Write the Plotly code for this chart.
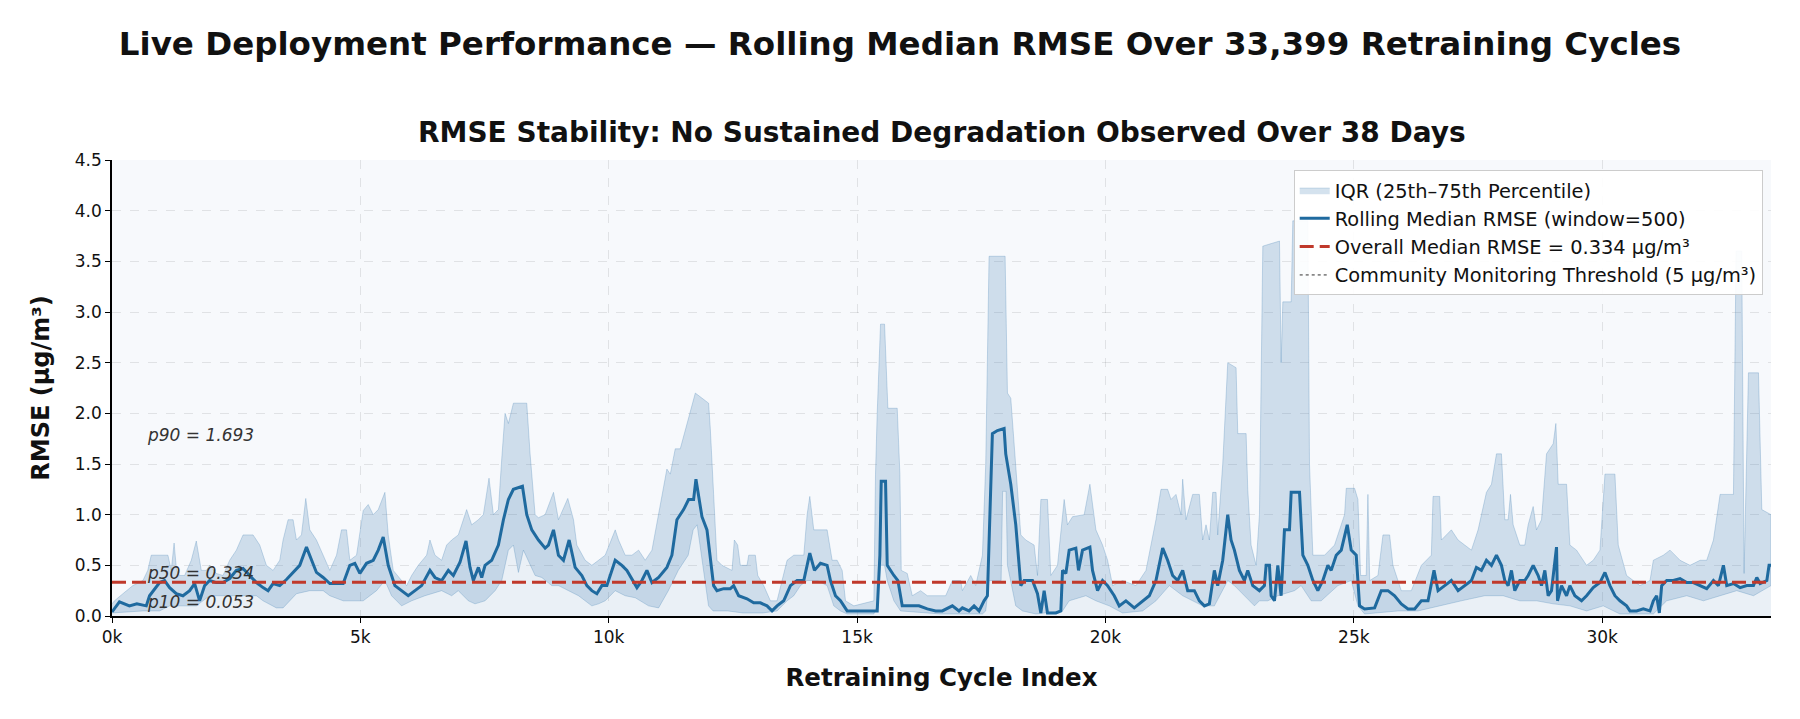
import plotly.graph_objects as go

N_CYCLES = 33399
OVERALL_MEDIAN = 0.334
THRESHOLD = 5.0
P90, P50, P10 = 1.693, 0.334, 0.053

median_x = [0, 50, 150, 350, 500, 690, 756, 958, 1059, 1160, 1294, 1428, 1563, 1664, 1764, 1865, 1966, 2100, 2235, 2369,
            2504, 2638, 2772, 2907, 3041, 3142, 3243, 3377, 3512, 3646, 3780, 3915, 4016, 4116, 4251, 4385, 4520, 4654,
            4788, 4889, 4990, 5124, 5259, 5360, 5460, 5561, 5696, 5830, 5964, 6099, 6233, 6401, 6502, 6636, 6771, 6872,
            7006, 7127, 7208, 7275, 7376, 7443, 7510, 7644, 7779, 7880, 7980, 8081, 8182, 8263, 8350, 8451, 8585, 8720,
            8787, 8888, 8988, 9089, 9203, 9324, 9459, 9560, 9660, 9761, 9862, 9963, 10131, 10265, 10366, 10467, 10568,
            10668, 10769, 10870, 11004, 11171, 11272, 11373, 11440, 11507, 11608, 11709, 11756, 11810, 11877, 11978,
            12045, 12112, 12179, 12314, 12448, 12515, 12616, 12784, 12919, 13053, 13187, 13288, 13389, 13523, 13658,
            13792, 13927, 14048, 14142, 14263, 14397, 14464, 14565, 14666, 14800, 14935, 15203, 15405, 15459, 15486,
            15573, 15607, 15741, 15822, 15909, 16077, 16245, 16413, 16582, 16716, 16918, 17052, 17120, 17254, 17355,
            17456, 17556, 17624, 17671, 17724, 17825, 17960, 17993, 18094, 18195, 18296, 18363, 18531, 18632, 18699,
            18766, 18833, 19001, 19102, 19136, 19203, 19270, 19404, 19458, 19539, 19687, 19740, 19841, 19942, 20043,
            20177, 20278, 20412, 20580, 20748, 20883, 21017, 21152, 21252, 21353, 21454, 21555, 21656, 21790, 21891,
            21992, 22092, 22193, 22260, 22361, 22462, 22529, 22596, 22697, 22798, 22865, 22966, 23100, 23201, 23235,
            23302, 23336, 23403, 23470, 23537, 23604, 23705, 23739, 23907, 23974, 24075, 24176, 24276, 24377, 24478,
            24545, 24646, 24747, 24868, 24948, 25049, 25116, 25217, 25419, 25553, 25688, 25822, 25956, 26091, 26225,
            26360, 26494, 26615, 26696, 26830, 26964, 27099, 27233, 27368, 27468, 27569, 27670, 27771, 27872, 27972,
            28040, 28107, 28174, 28241, 28342, 28443, 28510, 28611, 28712, 28779, 28846, 28913, 28980, 29081, 29101,
            29182, 29283, 29350, 29451, 29585, 29686, 29820, 29955, 30056, 30156, 30257, 30358, 30492, 30560, 30694,
            30828, 30963, 31030, 31097, 31151, 31198, 31299, 31433, 31568, 31702, 31836, 31971, 32105, 32240, 32340,
            32441, 32508, 32643, 32777, 32912, 33046, 33113, 33180, 33315, 33360, 33399]
median_y = [0.04, 0.07, 0.14, 0.1, 0.12, 0.1, 0.2, 0.33, 0.35, 0.28, 0.22, 0.2, 0.25, 0.32, 0.15, 0.3, 0.35, 0.33, 0.33, 0.37,
            0.45, 0.47, 0.4, 0.33, 0.28, 0.25, 0.32, 0.3, 0.36, 0.43, 0.5, 0.68, 0.55, 0.43, 0.38, 0.32, 0.32, 0.32,
            0.5, 0.52, 0.42, 0.52, 0.55, 0.65, 0.78, 0.5, 0.3, 0.25, 0.2, 0.25, 0.3, 0.45, 0.38, 0.35, 0.45, 0.4,
            0.53, 0.74, 0.48, 0.35, 0.48, 0.38, 0.5, 0.55, 0.7, 0.95, 1.15, 1.25, 1.27, 1.28, 1.0, 0.85, 0.75, 0.67,
            0.7, 0.85, 0.6, 0.55, 0.75, 0.48, 0.4, 0.3, 0.25, 0.22, 0.3, 0.3, 0.55, 0.5, 0.45, 0.36, 0.28,
            0.35, 0.45, 0.33, 0.38, 0.48, 0.6, 0.95, 1.0, 1.05, 1.15, 1.15, 1.35, 1.2, 0.98, 0.85,
            0.6, 0.3, 0.25, 0.27, 0.27, 0.3, 0.2, 0.17, 0.13, 0.13, 0.1, 0.05, 0.1, 0.15, 0.3,
            0.35, 0.35, 0.62, 0.45, 0.52, 0.5, 0.35, 0.2, 0.15, 0.05, 0.05, 0.05, 0.05, 0.6, 1.33,
            1.33, 0.5, 0.4, 0.35, 0.1, 0.1, 0.1, 0.07, 0.05, 0.05, 0.1, 0.05, 0.08, 0.05, 0.1,
            0.05, 0.15, 0.2, 0.9, 1.8, 1.83, 1.85, 1.6, 1.3, 0.9, 0.3, 0.35, 0.35, 0.22, 0.03,
            0.25, 0.03, 0.03, 0.05, 0.45, 0.42, 0.65, 0.67, 0.45, 0.65, 0.68, 0.45, 0.25, 0.35, 0.3,
            0.2, 0.1, 0.15, 0.08, 0.15, 0.2, 0.35, 0.67, 0.55, 0.4, 0.35, 0.45, 0.25, 0.25, 0.15,
            0.1, 0.12, 0.45, 0.3, 0.55, 1.0, 0.75, 0.65, 0.45, 0.35, 0.45, 0.3, 0.25, 0.3, 0.5,
            0.5, 0.2, 0.15, 0.5, 0.2, 0.85, 0.85, 1.22, 1.22, 0.6, 0.5, 0.35, 0.25, 0.35, 0.5,
            0.45, 0.6, 0.65, 0.9, 0.65, 0.6, 0.1, 0.07, 0.08, 0.25, 0.25, 0.2, 0.12, 0.07, 0.07,
            0.15, 0.15, 0.45, 0.25, 0.3, 0.35, 0.25, 0.3, 0.35, 0.48, 0.45, 0.55, 0.5, 0.6, 0.5,
            0.35, 0.3, 0.45, 0.25, 0.35, 0.35, 0.4, 0.5, 0.4, 0.3, 0.45, 0.2, 0.25, 0.68, 0.15,
            0.3, 0.2, 0.3, 0.2, 0.15, 0.2, 0.28, 0.33, 0.43, 0.3, 0.2, 0.15, 0.1, 0.05, 0.05,
            0.07, 0.05, 0.15, 0.2, 0.03, 0.3, 0.35, 0.35, 0.37, 0.33, 0.33, 0.3, 0.27, 0.35, 0.3,
            0.5, 0.3, 0.32, 0.28, 0.3, 0.3, 0.38, 0.32, 0.35, 0.5, 0.5]

q75_x = [0, 50, 219, 420, 622, 720, 790, 1126, 1193, 1250, 1300, 1361, 1462, 1596, 1697, 1798, 1899, 1966, 2100, 2235,
         2369, 2504, 2638, 2840, 2974, 3108, 3243, 3377, 3444, 3545, 3646, 3713, 3814, 3901, 3982, 4116, 4251, 4385,
         4520, 4620, 4721, 4788, 4923, 5057, 5158, 5259, 5360, 5494, 5561, 5662, 5830, 5931, 6032, 6166, 6334, 6401,
         6502, 6636, 6737, 6838, 6972, 7140, 7241, 7376, 7476, 7590, 7678, 7779, 7846, 7913, 7980, 8081, 8350, 8417,
         8518, 8585, 8720, 8888, 8988, 9176, 9291, 9358, 9526, 9660, 9795, 9929, 10131, 10198, 10332, 10467, 10601,
         10735, 10870, 11004, 11100, 11171, 11239, 11339, 11440, 11575, 11675, 11743, 12011, 12045, 12112, 12179,
         12280, 12482, 12529, 12596, 12650, 12784, 12818, 12952, 13000, 13120, 13255, 13389, 13591, 13725, 13927,
         13994, 14048, 14128, 14397, 14498, 14599, 14700, 14767, 14935, 15338, 15371, 15405, 15472, 15553, 15620,
         15808, 15862, 15889, 16010, 16111, 16279, 16413, 16582, 16784, 16918, 17086, 17120, 17288, 17388, 17523,
         17590, 17657, 17980, 18027, 18094, 18195, 18296, 18396, 18564, 18632, 18700, 18833, 18900, 19035, 19169,
         19236, 19337, 19572, 19687, 19808, 19942, 20043, 20144, 20345, 20614, 20816, 21017, 21118, 21252, 21320,
         21420, 21521, 21555, 21622, 21756, 21891, 21958, 22025, 22092, 22160, 22227, 22260, 22361, 22462, 22630,
         22664, 22832, 22865, 22932, 23033, 23100, 23168, 23504, 23537, 23571, 23739, 23772, 24075, 24108, 24176,
         24411, 24612, 24814, 24848, 25016, 25083, 25137, 25250, 25284, 25320, 25486, 25587, 25721, 25788, 25956,
         26158, 26360, 26561, 26595, 26729, 26763, 26964, 27099, 27233, 27368, 27502, 27670, 27771, 27872, 27972,
         28040, 28107, 28154, 28208, 28342, 28443, 28510, 28611, 28678, 28779, 28880, 29014, 29068, 29115, 29283,
         29350, 29484, 29686, 29820, 29955, 30056, 30257, 30324, 30492, 30761, 30963, 31030, 31232, 31366, 31568,
         31769, 31971, 32105, 32240, 32374, 32643, 32696, 32810, 32857, 32945, 33147, 33214, 33399]
q75_y = [0.12, 0.15, 0.22, 0.3, 0.35, 0.45, 0.6, 0.6, 0.45, 0.72, 0.45, 0.4, 0.4, 0.55, 0.74, 0.45, 0.45, 0.5, 0.42, 0.4,
         0.55, 0.65, 0.8, 0.8, 0.7, 0.5, 0.45, 0.55, 0.75, 0.95, 0.95, 0.75, 0.8, 1.16, 0.85, 0.75, 0.6, 0.45,
         0.6, 0.85, 0.85, 0.55, 0.6, 1.04, 1.1, 1.0, 1.05, 1.22, 0.8, 0.45, 0.35, 0.3, 0.4, 0.5, 0.6, 0.75,
         0.6, 0.55, 0.7, 0.75, 0.8, 1.05, 0.9, 0.95, 1.0, 1.36, 1.0, 1.05, 1.55, 2.0, 1.9, 2.1, 2.1, 1.6,
         1.0, 0.97, 1.0, 1.22, 0.95, 1.16, 0.95, 0.7, 0.55, 0.5, 0.55, 0.6, 0.85, 0.75, 0.6, 0.6, 0.65,
         0.55, 0.65, 1.0, 1.25, 1.45, 1.4, 1.65, 1.65, 1.9, 2.1, 2.2, 2.1, 1.85, 1.2, 0.55,
         0.5, 0.45, 0.75, 0.7, 0.5, 0.5, 0.6, 0.6, 0.4, 0.3, 0.15, 0.15, 0.55, 0.6, 0.6,
         1.0, 1.18, 0.85, 0.85, 0.55, 0.55, 0.45, 0.15, 0.1, 0.15, 1.4, 2.0, 2.88, 2.88, 2.05,
         2.05, 1.4, 0.45, 0.42, 0.2, 0.25, 0.2, 0.2, 0.2, 0.35, 0.35, 0.25, 0.4, 0.3, 0.6,
         1.5, 3.55, 3.55, 2.2, 2.15, 1.5, 0.8, 0.75, 0.7, 0.4, 1.15, 1.15, 0.4, 0.5, 1.15,
         0.9, 0.98, 1.0, 1.3, 0.85, 0.7, 0.55, 0.3, 0.35, 0.3, 0.45, 0.95, 1.25, 1.25, 1.15,
         1.2, 1.0, 1.35, 0.95, 1.2, 1.2, 0.75, 0.9, 0.75, 1.22, 1.22, 0.8, 1.5, 2.5, 2.45,
         1.8, 1.8, 1.25, 0.7, 0.5, 1.0, 3.65, 3.7, 2.5, 3.1, 3.1, 3.9, 3.9, 1.5, 0.6,
         0.6, 0.7, 1.0, 1.26, 1.26, 1.15, 0.4, 0.4, 1.2, 0.35, 0.4, 0.8, 0.8, 0.5, 0.25,
         0.25, 0.5, 0.6, 1.18, 1.18, 0.75, 0.85, 0.75, 0.7, 0.65, 0.85, 1.22, 1.3, 1.6, 1.6,
         0.95, 0.95, 1.2, 0.9, 0.7, 0.7, 0.9, 1.08, 0.85, 0.95, 1.6, 1.7, 1.9, 1.3, 1.3,
         0.7, 0.65, 0.5, 0.55, 0.65, 1.4, 1.4, 0.7, 0.4, 0.3, 0.35, 0.55, 0.6, 0.65, 0.55,
         0.5, 0.55, 0.55, 0.75, 1.2, 1.2, 3.6, 3.6, 0.42, 2.4, 2.4, 1.05, 1.0]

q25_x = [0, 622, 958, 1160, 1697, 1966, 2369, 2907, 3041, 3310, 3444, 3713, 3982, 4251, 4385, 4654, 5057, 5326, 5494,
         5628, 5830, 6032, 6300, 6636, 6838, 6972, 7174, 7308, 7510, 7712, 7846, 7980, 8081, 8182, 8283, 8384, 8518,
         8652, 8854, 8988, 9190, 9392, 9526, 9660, 9795, 9929, 10131, 10332, 10534, 10803, 11004, 11200, 11400,
         11600, 11700, 11780, 11850, 11910, 12010, 12100, 12400, 12700, 13100, 13389, 13591, 13725, 13860, 13994,
         14196, 14397, 14531, 14666, 14800, 15338, 15405, 15472, 15553, 15607, 15741, 15876, 16413, 16682, 17523,
         17590, 17657, 17900, 17930, 18000, 18027, 18195, 18330, 18600, 19136, 19270, 19606, 19808, 20076, 20345,
         20748, 21017, 21286, 21555, 21958, 22193, 22462, 22596, 22798, 23000, 23100, 23270, 23470, 23806, 23940,
         24142, 24343, 24680, 24948, 25083, 25217, 25890, 26292, 26696, 27166, 27636, 28006, 28342, 28678, 29014,
         29350, 29686, 30022, 30358, 31030, 31299, 31702, 32038, 32374, 32710, 33046, 33399]
q25_y = [0.03, 0.05, 0.05, 0.1, 0.1, 0.2, 0.2, 0.2, 0.15, 0.08, 0.08, 0.22, 0.25, 0.25, 0.2, 0.15, 0.15, 0.25, 0.35,
         0.2, 0.1, 0.15, 0.2, 0.25, 0.2, 0.25, 0.15, 0.12, 0.15, 0.25, 0.35, 0.65, 0.7, 0.43, 0.65, 0.55, 0.4,
         0.38, 0.3, 0.3, 0.25, 0.2, 0.15, 0.1, 0.12, 0.15, 0.25, 0.2, 0.18, 0.1, 0.08, 0.25, 0.45,
         0.6, 0.85, 0.9, 0.7, 0.45, 0.1, 0.05, 0.05, 0.03, 0.03, 0.05, 0.15, 0.2, 0.3, 0.35,
         0.35, 0.3, 0.1, 0.05, 0.02, 0.02, 0.1, 0.5, 0.5, 0.35, 0.15, 0.05, 0.03, 0.02, 0.02,
         0.05, 0.35, 0.35, 1.23, 1.23, 0.5, 0.1, 0.05, 0.02, 0.05, 0.15, 0.2, 0.15, 0.1, 0.03,
         0.05, 0.15, 0.3, 0.2, 0.1, 0.1, 0.35, 0.3, 0.2, 0.1, 0.15, 0.15, 0.2, 0.25, 0.3,
         0.15, 0.15, 0.3, 0.35, 0.1, 0.02, 0.05, 0.05, 0.1, 0.15, 0.2, 0.2, 0.15, 0.15, 0.12,
         0.1, 0.05, 0.1, 0.02, 0.02, 0.15, 0.2, 0.15, 0.2, 0.25, 0.2, 0.3]

x_tick_vals = [0, 5000, 10000, 15000, 20000, 25000, 30000]
x_tick_text = ["0k", "5k", "10k", "15k", "20k", "25k", "30k"]
y_tick_vals = [0.0, 0.5, 1.0, 1.5, 2.0, 2.5, 3.0, 3.5, 4.0, 4.5]

FONT = "DejaVu Sans"
BLUE = "#1f6a9f"
RED = "#c0392b"

fig = go.Figure()

# faint fill under the rolling median
fig.add_trace(go.Scatter(x=median_x, y=median_y, mode="lines", line=dict(width=0),
                         fill="tozeroy", fillcolor="rgba(31,106,159,0.06)",
                         showlegend=False, hoverinfo="skip"))

# IQR band as a closed polygon
band_x = q75_x + q25_x[::-1]
band_y = q75_y + q25_y[::-1]
fig.add_trace(go.Scatter(x=band_x, y=band_y, mode="lines", fill="toself",
                         fillcolor="rgba(70,130,180,0.23)",
                         line=dict(color="rgba(70,130,180,0.28)", width=1),
                         name="IQR (25th\u201375th Percentile)"))

fig.add_trace(go.Scatter(x=median_x, y=median_y, mode="lines",
                         line=dict(color=BLUE, width=3),
                         name="Rolling Median RMSE (window=500)"))

fig.add_trace(go.Scatter(x=[0, N_CYCLES], y=[OVERALL_MEDIAN, OVERALL_MEDIAN], mode="lines",
                         line=dict(color=RED, width=3, dash="14px,6px"),
                         name=f"Overall Median RMSE = {OVERALL_MEDIAN:.3f} \u00b5g/m\u00b3"))

fig.add_trace(go.Scatter(x=[0, N_CYCLES], y=[THRESHOLD, THRESHOLD], mode="lines",
                         line=dict(color="#888888", width=1.8, dash="dot"),
                         name="Community Monitoring Threshold (5 \u00b5g/m\u00b3)"))

for label, val in [("p90", P90), ("p50", P50), ("p10", P10)]:
    fig.add_annotation(x=N_CYCLES * 0.02, y=val + 0.09, xref="x", yref="y",
                       text=f"<i>{label} = {val:.3f}</i>", showarrow=False,
                       xanchor="left", yanchor="middle",
                       font=dict(family=FONT, size=17, color="#333333"))

fig.add_annotation(x=0.5, y=1.061, xref="paper", yref="paper",
                   text="<b>RMSE Stability: No Sustained Degradation Observed Over 38 Days</b>",
                   showarrow=False, xanchor="center", yanchor="middle",
                   font=dict(family=FONT, size=28, color="#111111"))

fig.update_layout(
    width=1800, height=719,
    margin=dict(l=112, r=29, t=160, b=103),
    paper_bgcolor="white",
    plot_bgcolor="#f7f9fc",
    font=dict(family=FONT, size=17, color="#111111"),
    title=dict(text="<b>Live Deployment Performance \u2014 Rolling Median RMSE Over 33,399 Retraining Cycles</b>",
               x=0.5, xref="container", xanchor="center",
               y=1 - 44 / 719, yref="container", yanchor="middle",
               font=dict(family=FONT, size=32.5, color="#111111")),
    legend=dict(x=0.995, y=0.978, xanchor="right", yanchor="top",
                bgcolor="rgba(255,255,255,0.92)", bordercolor="#cccccc", borderwidth=1,
                font=dict(family=FONT, size=19.4, color="#111111")),
    showlegend=True,
)

fig.update_xaxes(range=[0, N_CYCLES], tickvals=x_tick_vals, ticktext=x_tick_text,
                 showgrid=True, gridcolor="rgba(0,0,0,0.09)", griddash="dash", gridwidth=1,
                 showline=True, linecolor="black", linewidth=1.5, ticks="outside",
                 ticklen=5, tickwidth=1.2, tickcolor="black", zeroline=False,
                 tickfont=dict(size=17),
                 title=dict(text="<b>Retraining Cycle Index</b>", font=dict(size=24.5), standoff=23))
fig.update_yaxes(range=[0, 4.5], tickvals=y_tick_vals, tickformat=".1f",
                 showgrid=True, gridcolor="rgba(0,0,0,0.09)", griddash="dash", gridwidth=1,
                 showline=True, linecolor="black", linewidth=1.5, ticks="outside",
                 ticklen=5, tickwidth=1.2, tickcolor="black", zeroline=False,
                 tickfont=dict(size=17),
                 title=dict(text="<b>RMSE (\u00b5g/m\u00b3)</b>", font=dict(size=24), standoff=18))

fig.write_html("out.html")
